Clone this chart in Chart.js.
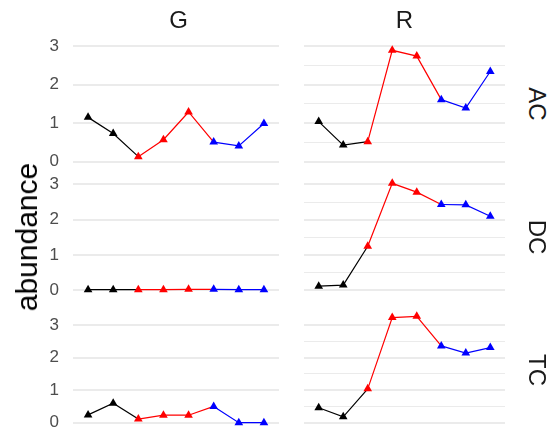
<!DOCTYPE html>
<html>
<head>
<meta charset="utf-8">
<title>abundance</title>
<script src="https://cdn.jsdelivr.net/npm/chart.js@4.4.1/dist/chart.umd.min.js"></script>
<style>
  html, body { margin: 0; padding: 0; background: #ffffff; }
  #wrap { position: relative; width: 550px; height: 436px; overflow: hidden; font-family: "Liberation Sans", Arial, sans-serif; }
  #wrap canvas { position: absolute; }
  .lbl { position: absolute; white-space: nowrap; color: #1a1a1a; line-height: 1; }
</style>
</head>
<body>
<div id="wrap"></div>
<script>
// facet labels
const columns = ["G", "R"];
const rows = ["AC", "DC", "TC"];

// x positions (8 samples) and the colour group of each sample
const samples = [1, 2, 3, 4, 5, 6, 7, 8];
const sampleColors = ["#000000", "#000000", "#ff0000", "#ff0000", "#ff0000", "#0000ff", "#0000ff", "#0000ff"];

// y ticks (gridlines every 0.5, labels on whole numbers)
const yTicks = [0, 0.5, 1, 1.5, 2, 2.5, 3];

// abundance values
const G_AC = [1.15, 0.73, 0.13, 0.57, 1.29, 0.51, 0.41, 0.99];
const R_AC = [1.04, 0.43, 0.52, 2.89, 2.74, 1.61, 1.39, 2.34];
const G_DC = [0.02, 0.02, 0.02, 0.02, 0.03, 0.03, 0.02, 0.02];
const R_DC = [0.12, 0.15, 1.25, 3.03, 2.78, 2.43, 2.42, 2.10];
const G_TC = [0.24, 0.60, 0.11, 0.23, 0.23, 0.50, 0.00, 0.00];
const R_TC = [0.46, 0.18, 1.04, 3.23, 3.27, 2.36, 2.14, 2.31];

const panelData = {
    AC: { G: G_AC, R: R_AC },
    DC: { G: G_DC, R: R_DC },
    TC: { G: G_TC, R: R_TC }
};

document.addEventListener("DOMContentLoaded", function () {
    const wrap = document.getElementById("wrap");

    // panel geometry
    const colLeft = [73, 299];
    const rowTop = [45, 178, 311];
    const panelW = 211;
    const panelH = 117;
    const AXW = 40;   // room for tick labels in the left column
    const PAD = 26;   // vertical room (tick label overflow + markers)

    function addLabel(text, x, y, size, rotate, color) {
        const d = document.createElement("div");
        d.className = "lbl";
        d.textContent = text;
        d.style.fontSize = size + "px";
        if (color) d.style.color = color;
        d.style.left = x + "px";
        d.style.top = y + "px";
        d.style.transform = "translate(-50%, -50%)" + (rotate ? " rotate(" + rotate + "deg)" : "");
        wrap.appendChild(d);
    }

    rows.forEach(function (row, r) {
        // free y scale per row: data range plus 5% each side
        const all = panelData[row].G.concat(panelData[row].R);
        const lo = Math.min.apply(null, all);
        const hi = Math.max.apply(null, all);
        const ext = (hi - lo) * 0.05;

        columns.forEach(function (col, c) {
            const values = panelData[row][col];
            const axisW = c === 0 ? AXW : 0;

            const canvas = document.createElement("canvas");
            canvas.width = panelW + axisW;
            canvas.height = panelH + PAD * 2;
            canvas.style.left = (colLeft[c] - axisW) + "px";
            canvas.style.top = (rowTop[r] - PAD) + "px";
            wrap.appendChild(canvas);

            new Chart(canvas.getContext("2d"), {
                type: "line",
                data: {
                    datasets: [{
                        data: values.map((v, i) => ({ x: samples[i], y: v })),
                        borderColor: "#000000",
                        borderWidth: 1.2,
                        segment: {
                            borderColor: ctx => sampleColors[ctx.p0DataIndex]
                        },
                        pointStyle: "triangle",
                        pointRadius: 5,
                        pointBorderWidth: 0,
                        pointBackgroundColor: sampleColors,
                        tension: 0,
                        clip: false
                    }]
                },
                options: {
                    responsive: false,
                    animation: false,
                    devicePixelRatio: 1,
                    events: [],
                    layout: { padding: { top: PAD, bottom: PAD, left: 0, right: 0 } },
                    plugins: {
                        legend: { display: false },
                        tooltip: { enabled: false }
                    },
                    scales: {
                        x: {
                            type: "linear",
                            min: 0.4,
                            max: 8.6,
                            display: false
                        },
                        y: {
                            type: "linear",
                            min: lo - ext,
                            max: hi + ext,
                            afterBuildTicks: axis => { axis.ticks = yTicks.map(v => ({ value: v })); },
                            afterFit: axis => { axis.width = axisW; },
                            border: { display: false },
                            grid: {
                                color: "#ebebeb",
                                lineWidth: ctx => (ctx.tick && Number.isInteger(ctx.tick.value)) ? 2 : 1,
                                drawTicks: false
                            },
                            ticks: {
                                display: c === 0,
                                padding: 14,
                                color: "#4d4d4d",
                                font: { family: "'Liberation Sans', Arial, sans-serif", size: 17 },
                                callback: v => Number.isInteger(v) ? v : ""
                            }
                        }
                    }
                }
            });
        });

        // row strip on the right
        addLabel(row, 537, rowTop[r] + panelH / 2, 24, 90);
    });

    // column strips on top
    columns.forEach(function (col, c) {
        addLabel(col, colLeft[c] + panelW / 2, 20, 24, 0);
    });

    // y axis title
    addLabel("abundance", 27, rowTop[0] + (rowTop[2] + panelH - rowTop[0]) / 2, 30, -90, "#000000");
});
</script>
</body>
</html>
